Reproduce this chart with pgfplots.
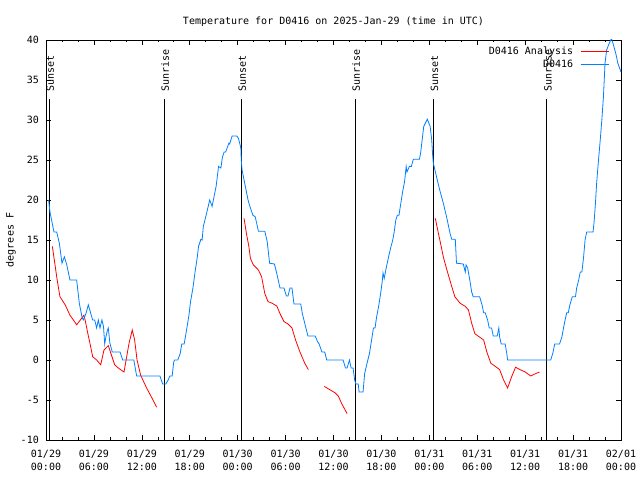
\documentclass[border=0pt]{standalone}
\usepackage{pgfplots}
\pgfplotsset{compat=1.18}
\usepackage{fontspec}
\setmainfont{DejaVu Sans Mono}
\definecolor{obsblue}{RGB}{0,128,255}
\definecolor{anared}{RGB}{255,0,0}
\begin{document}
\fontsize{10bp}{13bp}\selectfont
\begin{tikzpicture}
\useasboundingbox (-46bp,-40bp) rectangle (594bp,440bp);
\begin{axis}[
  anchor=south west,
  width=575bp, height=400bp, scale only axis,
  xmin=0, xmax=72, ymin=-10, ymax=40,
  axis line style={black, line width=0.8bp},
  tick style={black, line width=0.6bp},
  major tick length=5bp, minor tick length=2.5bp,
  tick align=inside,
  xtick={0,6,...,72}, minor x tick num=2,
  xticklabels={{01/29\\00:00},{01/29\\06:00},{01/29\\12:00},{01/29\\18:00},{01/30\\00:00},{01/30\\06:00},{01/30\\12:00},{01/30\\18:00},{01/31\\00:00},{01/31\\06:00},{01/31\\12:00},{01/31\\18:00},{02/01\\00:00}},
  xticklabel style={align=center, anchor=center, yshift=-20.5bp, font=\fontsize{10bp}{13bp}\selectfont},
  ytick={-10,-5,0,5,10,15,20,25,30,35,40},
  yticklabels={-10,-5,0,5,10,15,20,25,30,35,40},
  yticklabel style={anchor=east, inner sep=0pt, xshift=-7bp},
  title={Temperature for D0416 on 2025-Jan-29 (time in UTC)},
  title style={at={(axis description cs:0.5,1.0375)}, anchor=base, inner sep=0pt, yshift=-6pt},
  ylabel={degrees F},
  ylabel style={at={(axis description cs:-0.0609,0.5)}, anchor=center, inner sep=0pt},
  unbounded coords=jump,
  legend plot pos=right,
  legend cell align=right,
  legend image code/.code={\draw[#1] (0bp,0bp) -- (28bp,0bp);},
  legend style={draw=none, fill=none, at={(axis description cs:0.979,0.983)}, anchor=north east,
    inner sep=0pt, outer sep=0pt, row sep=3bp, column sep=7bp,
    nodes={inner sep=0pt, text height=7.5bp, text depth=2.5bp}},
  clip=true,
]
% sunrise / sunset lines
\addplot[black, line width=0.8bp, forget plot] coordinates {(0.41,-10) (0.41,32.6)};
\addplot[black, line width=0.8bp, forget plot] coordinates {(14.8,-10) (14.8,32.6)};
\addplot[black, line width=0.8bp, forget plot] coordinates {(24.45,-10) (24.45,32.6)};
\addplot[black, line width=0.8bp, forget plot] coordinates {(38.7,-10) (38.7,32.6)};
\addplot[black, line width=0.8bp, forget plot] coordinates {(48.5,-10) (48.5,32.6)};
\addplot[black, line width=0.8bp, forget plot] coordinates {(62.72,-10) (62.72,32.6)};
\node[rotate=90, anchor=west, inner sep=0pt] at (axis cs:0.54,33.5) {Sunset};
\node[rotate=90, anchor=west, inner sep=0pt] at (axis cs:14.93,33.5) {Sunrise};
\node[rotate=90, anchor=west, inner sep=0pt] at (axis cs:24.58,33.5) {Sunset};
\node[rotate=90, anchor=west, inner sep=0pt] at (axis cs:38.83,33.5) {Sunrise};
\node[rotate=90, anchor=west, inner sep=0pt] at (axis cs:48.63,33.5) {Sunset};
\node[rotate=90, anchor=west, inner sep=0pt] at (axis cs:62.85,33.5) {Sunrise};
% analysis (red)
\addplot[anared, line width=0.8bp] table {
x y
0.8 14.2
1.1 12.1
1.4 10
1.75 7.9
2.4 6.9
3.0 5.6
3.5 4.9
3.84 4.4
4.3 5
4.75 5.6
4.9 5
5.2 3.5
5.5 2.1
5.85 0.4
6.35 0
6.85 -0.6
7.26 1.25
7.8 1.8
8.2 0.6
8.6 -0.6
9.05 -1
9.77 -1.5
10.1 0.4
10.4 2.1
10.8 3.75
11.1 2.5
11.4 0
11.85 -1.9
12.6 -3.5
13.4 -5
13.85 -5.9
nan nan
24.8 17.7
25.1 15.8
25.4 14.2
25.6 12.7
25.95 11.9
26.6 11.25
27.0 10.4
27.4 8.3
27.8 7.3
28.3 7.1
28.9 6.75
29.3 5.8
29.8 4.8
30.3 4.5
30.8 4
31.25 2.5
31.8 1
32.4 -0.4
32.85 -1.2
nan nan
34.85 -3.3
35.6 -3.75
36.2 -4.1
36.6 -4.5
37.0 -5.4
37.7 -6.7
nan nan
48.75 17.7
49.1 16
49.4 14.6
49.75 12.9
50.2 11.25
50.8 9.2
51.2 7.9
51.85 7.1
52.5 6.7
52.9 6.25
53.3 4.6
53.7 3.3
54.1 3
54.8 2.5
55.2 1
55.7 -0.4
56.2 -0.75
56.8 -1.2
57.3 -2.5
57.8 -3.5
58.3 -2.1
58.8 -0.9
59.35 -1.2
60.0 -1.5
60.7 -2
61.2 -1.75
61.8 -1.5
};
\addlegendentry{D0416 Analysis}
% observations (blue)
\addplot[obsblue, line width=0.8bp] table {
x y
0.33 20
0.5 18.5
1.0 16
1.34 16
1.67 14.6
2.0 12.1
2.3 12.9
2.6 11.9
3.0 10
3.84 10
4.17 7.1
4.5 5.4
4.67 5
5.0 5.8
5.3 6.9
5.5 6.2
5.84 5
6.1 5
6.34 4
6.55 5
6.76 4
7.0 5
7.2 4.2
7.35 2
7.5 2.9
7.7 3.75
7.8 4
8.0 2.1
8.3 1
9.27 1
9.6 0
11.0 0
11.35 -2
14.27 -2
14.6 -3
15.0 -3
15.3 -2.5
15.5 -2
15.8 -2
16.0 -0.2
16.1 0
16.5 0
16.8 0.8
17.0 2
17.3 2
17.6 3.75
17.9 5.6
18.1 7.3
18.4 9
18.7 11.25
18.95 12.9
19.1 14.2
19.4 15.1
19.55 15
19.7 16.7
20.1 18.3
20.5 20
20.8 19.2
21.0 20.2
21.3 21.7
21.5 23.3
21.6 24.2
21.9 24
22.1 25.4
22.3 26
22.5 26
22.9 27.1
23.0 27
23.3 28
23.9 28
24.1 27.7
24.4 26.5
24.45 25
24.55 23.75
25.0 21.5
25.3 20
25.5 19.3
25.9 18.1
26.2 17.9
26.6 16.1
27.4 16.1
27.7 14.8
28.0 12.1
28.6 12
28.9 10.8
29.3 9
29.8 9
30.1 8
30.3 8
30.55 9
30.8 9
31.05 7
31.9 7
32.1 5.8
32.55 4
32.8 3
33.7 3
34.0 2.3
34.2 2
34.55 1
34.9 1
35.15 0
37.2 0
37.5 -1
37.7 -1
38.0 0
38.2 -1
38.45 -1
38.65 -2.5
38.8 -3
39.1 -3
39.2 -4
39.7 -4
39.9 -1.7
40.2 -0.4
40.5 0.8
40.8 2.7
41.0 4
41.2 4
41.4 5.4
41.65 6.7
41.9 8.3
42.1 9.8
42.2 10.9
42.35 10.2
42.6 11.5
42.9 12.9
43.2 14.2
43.4 14.9
43.6 16
43.8 17.5
44.0 18.1
44.2 18.1
44.4 19.4
44.65 21
44.9 22.3
45.1 24.2
45.2 23.5
45.5 24.2
45.75 24.2
46.0 25.1
46.75 25.1
46.9 25.8
47.1 27.5
47.3 29.2
47.75 30.1
48.1 29.2
48.3 27.5
48.4 25.8
48.5 24.6
48.9 22.9
49.3 21.25
49.75 19.6
50.2 17.7
50.6 15.8
50.8 15.1
51.25 15.1
51.4 12.1
52.25 12
52.5 11.0
52.6 11.9
52.8 11.5
53.1 9.8
53.3 8.5
53.5 7.9
54.3 7.9
54.6 6.9
54.8 5.9
55.0 5.9
55.3 5
55.5 4
55.8 4
56.0 3
56.5 3
56.7 4
56.8 2.9
57.0 2
57.5 2
57.7 0.8
57.8 0
63.2 0
63.45 0.8
63.7 2
64.3 2
64.6 2.9
64.8 4
65.0 5
65.2 5.9
65.4 5.9
65.6 6.9
65.9 7.9
66.3 7.9
66.45 9
66.7 10
66.9 11
67.1 11
67.3 12.7
67.5 15
67.7 16
68.5 16
68.65 17.5
68.8 19.6
68.95 22.1
69.15 24.6
69.4 27.5
69.6 30
69.8 32.9
70.0 37.1
70.2 38.75
70.45 39.4
70.8 40.2
71.05 39.4
71.4 38.1
71.6 37.1
72.0 36
};
\addlegendentry{D0416}
\end{axis}
\end{tikzpicture}
\end{document}
